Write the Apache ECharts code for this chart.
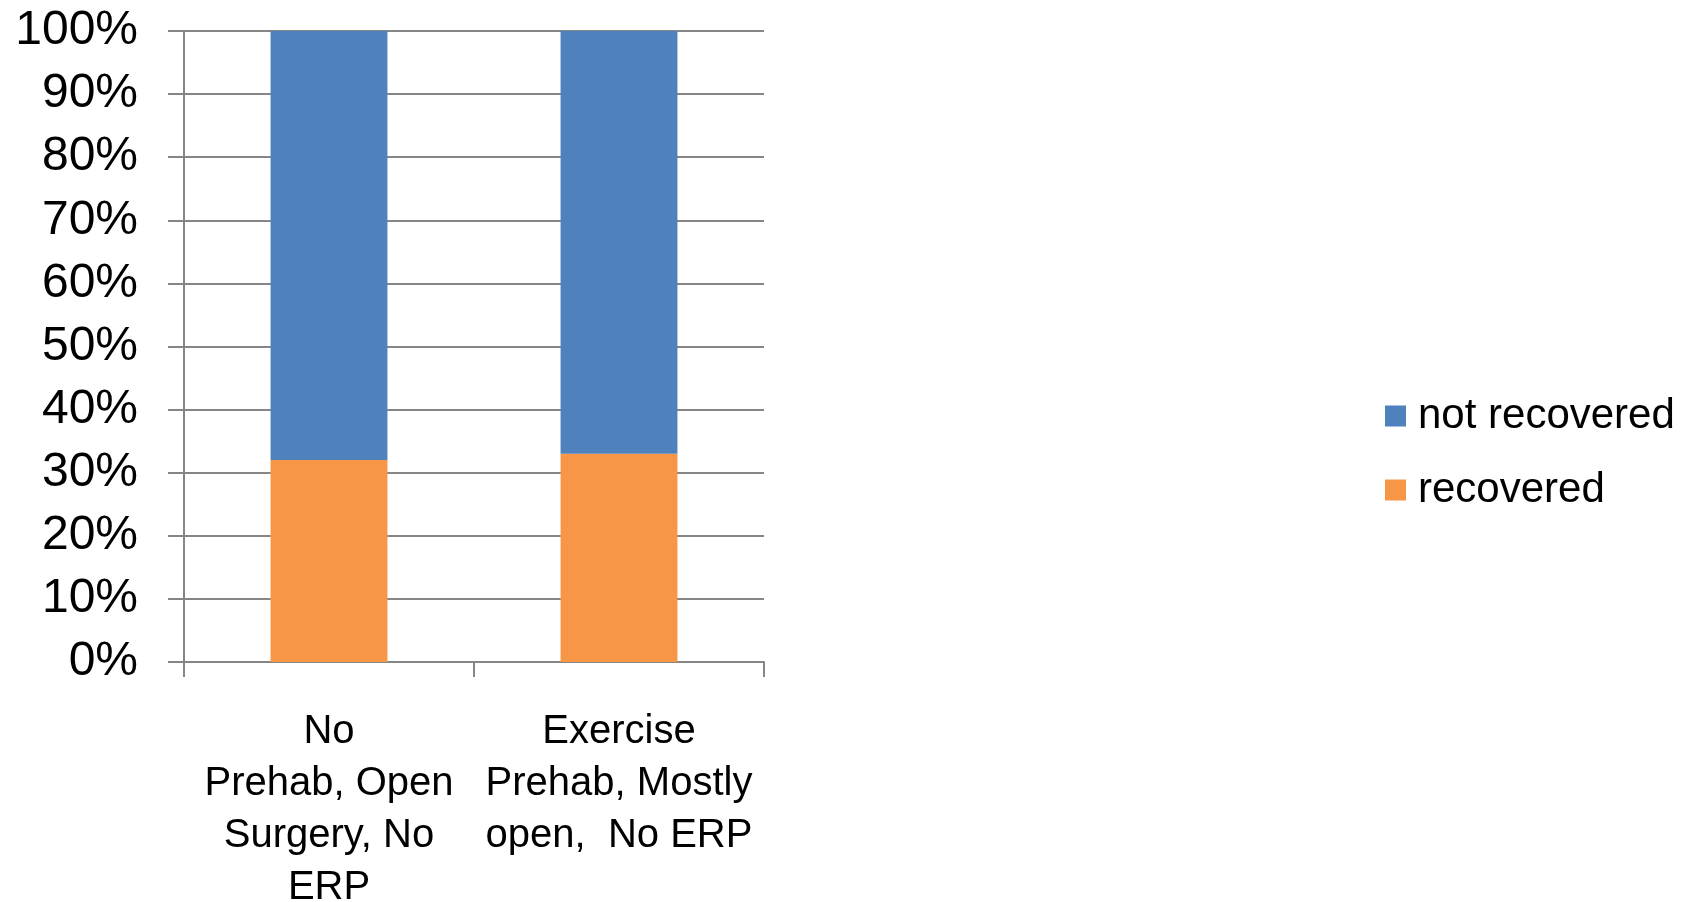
<!DOCTYPE html>
<html>
<head>
<meta charset="utf-8">
<script src="https://cdn.jsdelivr.net/npm/echarts@6/dist/echarts.min.js"></script>
<style>
html,body{margin:0;padding:0;background:#fff;}
#chart{width:1682px;height:902px;}
</style>
</head>
<body>
<div id="chart"></div>
<script>
var categories = ['No\nPrehab, Open\nSurgery, No\nERP', 'Exercise\nPrehab, Mostly\nopen,  No ERP'];
var recovered = [32, 33];
var notRecovered = [68, 67];
var seriesNames = ['not recovered', 'recovered'];

var FONT = '"Liberation Sans", Arial, sans-serif';
var chart = echarts.init(document.getElementById('chart'), null, {renderer: 'canvas'});
chart.setOption({
  animation: false,
  backgroundColor: '#ffffff',
  grid: {left: 184, right: 918, top: 31, bottom: 240, containLabel: false, outerBoundsMode: 'none'},
  legend: {
    orient: 'vertical',
    left: 1385,
    top: 395,
    padding: 0,
    itemWidth: 21,
    itemHeight: 21,
    itemGap: 32,
    icon: 'rect',
    data: [seriesNames[0], seriesNames[1]],
    textStyle: {fontFamily: FONT, fontSize: 42, color: '#000', lineHeight: 42, padding: [0, 0, 0, 7]}
  },
  xAxis: {
    type: 'category',
    data: categories,
    axisLine: {show: true, lineStyle: {color: '#868686', width: 2}},
    axisTick: {show: true, length: 15, lineStyle: {color: '#868686', width: 2}},
    axisLabel: {fontFamily: FONT, fontSize: 40, color: '#000', lineHeight: 52, margin: 44, align: 'center', interval: 0}
  },
  yAxis: {
    type: 'value',
    min: 0,
    max: 100,
    interval: 10,
    axisLine: {show: true, lineStyle: {color: '#868686', width: 2}},
    axisTick: {show: true, length: 16, lineStyle: {color: '#868686', width: 2}},
    splitLine: {show: true, lineStyle: {color: '#868686', width: 2}},
    axisLabel: {fontFamily: FONT, fontSize: 48, color: '#000', margin: 46, formatter: '{value}%'}
  },
  series: [
    {
      name: seriesNames[1],
      type: 'bar',
      stack: 'total',
      barWidth: '40.3%',
      data: recovered,
      itemStyle: {color: '#F79646'}
    },
    {
      name: seriesNames[0],
      type: 'bar',
      stack: 'total',
      barWidth: '40.3%',
      data: notRecovered,
      itemStyle: {color: '#4F81BD'}
    }
  ]
});
</script>
</body>
</html>
